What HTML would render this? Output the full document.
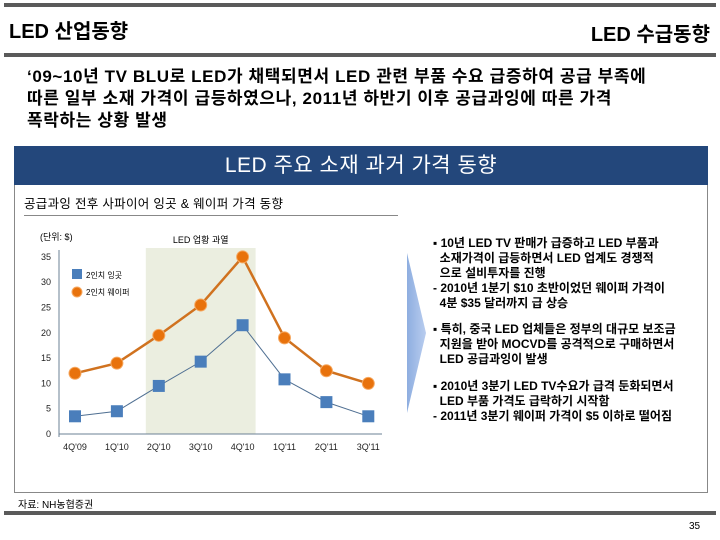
<!DOCTYPE html>
<html><head><meta charset="utf-8">
<style>
*{margin:0;padding:0;box-sizing:border-box}
body{width:720px;height:540px;background:#fff;position:relative;overflow:hidden;font-family:"Liberation Sans","Noto Sans CJK KR",sans-serif;color:#000}
.abs{position:absolute}
.bar{position:absolute;left:4px;right:4px;height:4px;background:#5a5a5a}
.rt{font-size:12px;font-weight:bold;line-height:15px;letter-spacing:0px}
</style></head><body>
<div class="bar" style="top:3px"></div>
<div class="abs" style="left:9px;top:15px;font-size:20px;font-weight:bold">LED 산업동향</div>
<div class="abs" style="right:10px;top:18px;font-size:20px;font-weight:bold">LED 수급동향</div>
<div class="bar" style="top:53px"></div>
<div class="abs" style="left:27px;top:66px;font-size:17px;font-weight:bold;line-height:22px;letter-spacing:0.6px;width:690px">‘09~10년 TV BLU로 LED가 채택되면서 LED 관련 부품 수요 급증하여 공급 부족에<br>따른 일부 소재 가격이 급등하였으나, 2011년 하반기 이후 공급과잉에 따른 가격<br>폭락하는 상황 발생</div>
<div class="abs" style="left:14px;top:146px;width:694px;height:39px;background:#23477b;color:#fff;font-size:21px;text-align:center;line-height:39px;letter-spacing:0.5px">LED 주요 소재 과거 가격 동향</div>
<div class="abs" style="left:14px;top:185px;width:694px;height:308px;border:1px solid #888;border-top:none"></div>
<div class="abs" style="left:24px;top:193px;font-size:12.5px;width:374px;border-bottom:1px solid #888;padding-bottom:3px;letter-spacing:0.3px">공급과잉 전후 사파이어 잉곳 &amp; 웨이퍼 가격 동향</div>

<svg class="abs" style="left:0;top:0" width="720" height="540" id="chart"></svg>

<svg class="abs" style="left:405px;top:252px" width="24" height="164">
<defs><linearGradient id="ag" x1="0" x2="1"><stop offset="0" stop-color="#8eaee0"/><stop offset="1" stop-color="#b9cdef"/></linearGradient></defs>
<polygon points="2,1 21,81 2,161" fill="url(#ag)"/></svg>

<div class="abs rt" style="left:433px;top:236px;width:285px">▪ 10년 LED TV 판매가 급증하고 LED 부품과<br>&nbsp;&nbsp;소재가격이 급등하면서 LED 업계도 경쟁적<br>&nbsp;&nbsp;으로 설비투자를 진행<br>- 2010년 1분기 $10 초반이었던 웨이퍼 가격이<br>&nbsp;&nbsp;4분 $35 달러까지 급 상승</div>
<div class="abs rt" style="left:433px;top:322px;width:287px">▪ 특히, 중국 LED 업체들은 정부의 대규모 보조금<br>&nbsp;&nbsp;지원을 받아 MOCVD를 공격적으로 구매하면서<br>&nbsp;&nbsp;LED 공급과잉이 발생</div>
<div class="abs rt" style="left:433px;top:379px;width:287px">▪ 2010년 3분기 LED TV수요가 급격 둔화되면서<br>&nbsp;&nbsp;LED 부품 가격도 급락하기 시작함<br>- 2011년 3분기 웨이퍼 가격이 $5 이하로 떨어짐</div>

<div class="abs" style="left:18px;top:496px;font-size:10px">자료: NH농협증권</div>
<div class="bar" style="top:511px"></div>
<div class="abs" style="left:689px;top:521px;font-size:10px">35</div>

<script>
const categories=["4Q'09","1Q'10","2Q'10","3Q'10","4Q'10","1Q'11","2Q'11","3Q'11"];
const waferValues=[12,14,19.5,25.5,35,19,12.5,10];
const ingotValues=[3.5,4.5,9.5,14.3,21.5,10.8,6.3,3.5];
const yTicks=[0,5,10,15,20,25,30,35];
const shadeRange=[2,4];
const svg=document.getElementById('chart');
const NS='http://www.w3.org/2000/svg';
const x0=75,step=41.9,yBase=434,yPer=5.06;
const X=i=>x0+i*step;
const Y=v=>yBase-v*yPer;
function mk(t,a){const e=document.createElementNS(NS,t);for(const k in a)e.setAttribute(k,a[k]);svg.appendChild(e);return e;}
let sh=mk('rect',{x:X(shadeRange[0])-13,y:248,width:X(shadeRange[1])-X(shadeRange[0])+26,height:yBase-248,fill:'#ebeee0'});


let st=mk('text',{x:(X(shadeRange[0])+X(shadeRange[1]))/2,y:243,'font-size':9,'text-anchor':'middle','font-family':'Liberation Sans, Noto Sans CJK KR, sans-serif'});
st.textContent='LED 업황 과열';


let ya=mk('line',{x1:59,y1:250,x2:59,y2:yBase+3,stroke:'#6b8095','stroke-width':1});


let xa=mk('line',{x1:59,y1:yBase,x2:382,y2:yBase,stroke:'#6b8095','stroke-width':1});


yTicks.forEach(v=>{
 let t=mk('text',{x:51,y:Y(v)+3,'font-size':9,'text-anchor':'end',fill:'#222','font-family':'Liberation Sans, sans-serif'});
 t.textContent=v;
 
 
});
categories.forEach((c,i)=>{
 let t=mk('text',{x:X(i),y:450,'font-size':9,'text-anchor':'middle',fill:'#222','font-family':'Liberation Sans, sans-serif'});
 t.textContent=c;
 
 
});
let u=mk('text',{x:40,y:240,'font-size':9,'font-family':'Liberation Sans, Noto Sans CJK KR, sans-serif'});
u.textContent='(단위: $)';


let lw=mk('polyline',{points:waferValues.map((v,i)=>X(i)+','+Y(v)).join(' '),fill:'none',stroke:'#d0721f','stroke-width':2.5});


let li=mk('polyline',{points:ingotValues.map((v,i)=>X(i)+','+Y(v)).join(' '),fill:'none',stroke:'#4f6f92','stroke-width':1});


waferValues.forEach((v,i)=>{
 let c=mk('circle',{cx:X(i),cy:Y(v),r:6,fill:'#e8720c',stroke:'#f6a860','stroke-width':1});
 
 
});
ingotValues.forEach((v,i)=>{
 let r=mk('rect',{x:X(i)-6,y:Y(v)-6,width:12,height:12,fill:'#4a7ebb'});
 
 
});
let lr=mk('rect',{x:72,y:269,width:10,height:10,fill:'#4a7ebb'});


let lt=mk('text',{x:86,y:278,'font-size':8,'font-family':'Liberation Sans, Noto Sans CJK KR, sans-serif'});
lt.textContent='2인치 잉곳';


let lc=mk('circle',{cx:77,cy:292,r:5,fill:'#e8720c',stroke:'#f6a860'});


let lt2=mk('text',{x:86,y:295,'font-size':8,'font-family':'Liberation Sans, Noto Sans CJK KR, sans-serif'});
lt2.textContent='2인치 웨이퍼';


</script>
</body></html>
